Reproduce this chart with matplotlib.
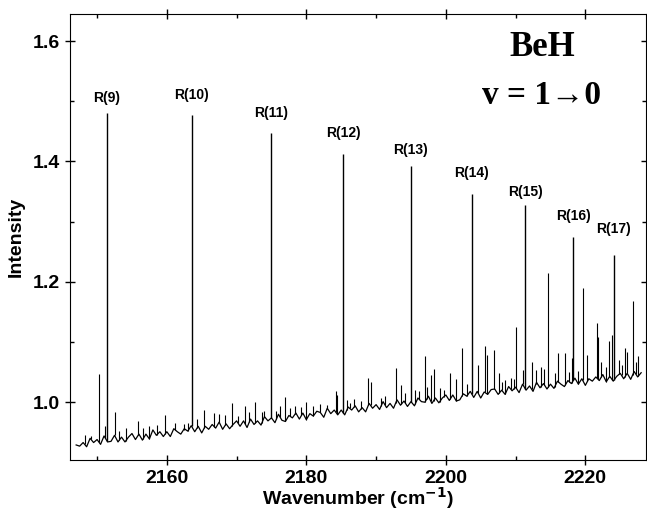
import numpy as np
import matplotlib
matplotlib.use("Agg")
import matplotlib.pyplot as plt
from matplotlib.ticker import MultipleLocator

# baseline trace, sampled every 0.5 cm-1 starting at 2147.0
baseline_start = 2147.0
baseline_step = 0.5
baseline = [
    0.929, 0.927, 0.933, 0.926, 0.940, 0.933, 0.938, 0.930, 0.944, 0.934,  # 2147
    0.935, 0.945, 0.934, 0.942, 0.934, 0.942, 0.948, 0.938, 0.947, 0.937,  # 2152
    0.947, 0.939, 0.954, 0.945, 0.951, 0.943, 0.951, 0.943, 0.956, 0.951,  # 2157
    0.947, 0.956, 0.952, 0.961, 0.951, 0.960, 0.949, 0.960, 0.955, 0.963,  # 2162
    0.957, 0.967, 0.955, 0.964, 0.956, 0.963, 0.969, 0.960, 0.969, 0.958,  # 2167
    0.972, 0.963, 0.969, 0.962, 0.976, 0.969, 0.974, 0.966, 0.980, 0.970,  # 2172
    0.968, 0.978, 0.974, 0.982, 0.972, 0.982, 0.971, 0.981, 0.977, 0.985,  # 2177
    0.983, 0.975, 0.990, 0.981, 0.987, 0.979, 0.987, 0.979, 0.992, 0.987,  # 2182
    0.994, 0.984, 0.991, 0.984, 0.998, 0.990, 0.996, 0.988, 1.001, 0.991,  # 2187
    0.998, 0.990, 1.004, 0.995, 1.002, 0.993, 1.001, 0.994, 1.007, 1.001,  # 2192
    1.000, 1.010, 0.998, 1.007, 0.999, 1.007, 1.012, 1.003, 1.012, 1.002,  # 2197
    1.004, 1.014, 1.010, 1.018, 1.008, 1.018, 1.007, 1.017, 1.013, 1.021,  # 2202
    1.022, 1.013, 1.020, 1.013, 1.026, 1.019, 1.025, 1.016, 1.030, 1.020,  # 2207
    1.027, 1.018, 1.033, 1.024, 1.031, 1.022, 1.030, 1.023, 1.035, 1.030,  # 2212
    1.026, 1.036, 1.031, 1.040, 1.030, 1.039, 1.028, 1.039, 1.035, 1.042,  # 2217
    1.036, 1.046, 1.034, 1.043, 1.035, 1.043, 1.048, 1.039, 1.048, 1.038,  # 2222
    1.051, 1.042, 1.049,                                                   # 2227
]

# weak lines (position, peak intensity)
weak_pos = [2150.3, 2151.2, 2152.5, 2154.1, 2155.9, 2157.5, 2158.6, 2159.8,
            2163.0, 2165.4, 2166.8, 2167.5, 2169.3, 2171.2, 2171.8, 2172.7,
            2174.0, 2176.2, 2176.9, 2178.4, 2180.0, 2181.0, 2182.0, 2183.0,
            2184.2, 2184.4, 2186.2, 2187.8, 2188.9, 2189.2, 2190.7, 2192.8,
            2193.6, 2195.6, 2197.0, 2197.3, 2197.85, 2198.25, 2199.7, 2200.6,
            2201.5, 2202.3, 2204.65, 2205.6, 2205.85, 2206.9, 2207.65, 2208.5,
            2209.3, 2210.1, 2211.0, 2212.3, 2212.9, 2213.6, 2214.1, 2214.7,
            2216.1, 2217.1, 2218.05, 2219.6, 2220.3, 2221.6, 2221.85, 2222.3,
            2223.4, 2223.85, 2224.85, 2225.7, 2226.0, 2226.8, 2227.6]
weak_int = [1.047, 0.960, 0.983, 0.957, 0.968, 0.960, 0.962, 0.979,
            0.965, 0.987, 0.982, 0.980, 0.999, 0.994, 0.984, 1.001,
            0.985, 0.993, 1.009, 0.994, 1.001, 0.993, 0.997, 0.996,
            1.018, 1.012, 0.998, 1.002, 1.040, 1.034, 1.007, 1.057,
            1.029, 1.020, 1.077, 1.026, 1.045, 1.056, 1.020, 1.049,
            1.038, 1.090, 1.062, 1.094, 1.079, 1.086, 1.048, 1.037,
            1.040, 1.125, 1.054, 1.067, 1.054, 1.059, 1.055, 1.214,
            1.082, 1.081, 1.073, 1.190, 1.078, 1.132, 1.109, 1.067,
            1.102, 1.112, 1.070, 1.090, 1.084, 1.169, 1.076]

# tiny spikes riding on the noise
small_pos = [2148.2, 2149.1, 2153.2, 2156.6, 2161.2, 2162.4, 2164.3, 2168.4,
             2170.2, 2173.6, 2175.7, 2177.6, 2179.3, 2185.8, 2186.9, 2191.3,
             2194.2, 2196.2, 2199.1, 2203.0, 2208.0, 2209.8, 2215.6, 2217.7,
             2219.0, 2223.0, 2225.2, 2227.2]
small_int = [0.945, 0.944, 0.952, 0.958, 0.966, 0.964, 0.972, 0.978,
             0.977, 0.984, 0.985, 0.990, 0.992, 1.004, 1.005, 1.010,
             1.016, 1.018, 1.024, 1.030, 1.034, 1.038, 1.048, 1.051,
             1.052, 1.058, 1.062, 1.066]

# assigned R-branch lines
r_labels = ["R(9)", "R(10)", "R(11)", "R(12)", "R(13)", "R(14)", "R(15)", "R(16)", "R(17)"]
r_pos = [2151.4, 2163.55, 2174.9, 2185.3, 2194.95, 2203.7, 2211.4, 2218.3, 2224.1]
r_int = [1.480, 1.477, 1.448, 1.413, 1.392, 1.346, 1.328, 1.275, 1.245]
r_label_y = [1.505, 1.510, 1.480, 1.447, 1.419, 1.381, 1.349, 1.309, 1.288]

wn = baseline_start + baseline_step * np.arange(len(baseline))

fig = plt.figure(figsize=(6.47, 5.11), dpi=100)
ax = fig.add_axes([0.108, 0.0998, 0.8905, 0.8728])

ax.plot(wn, baseline, color="black", lw=0.9)
ax.vlines(small_pos, np.interp(small_pos, wn, baseline), small_int, color="black", lw=0.8)
ax.vlines(weak_pos, np.interp(weak_pos, wn, baseline), weak_int, color="black", lw=0.8)
ax.vlines(r_pos, np.interp(r_pos, wn, baseline), r_int, color="black", lw=1.0)

for lab, x, y in zip(r_labels, r_pos, r_label_y):
    ax.text(x, y, lab, ha="center", va="center", fontsize=10,
            fontweight="bold", family="Liberation Sans")

ax.text(2213.9, 1.59, "BeH", ha="center", va="center", fontsize=25,
        fontweight="bold", family=["Liberation Serif", "DejaVu Serif"])
ax.text(2213.7, 1.51, "v = 1\u21920", ha="center", va="center", fontsize=24,
        fontweight="bold", family=["Liberation Serif", "DejaVu Serif"])

ax.set_xlim(2146.1, 2228.7)
ax.set_ylim(0.904, 1.645)
ax.xaxis.set_major_locator(MultipleLocator(20))
ax.xaxis.set_minor_locator(MultipleLocator(10))
ax.yaxis.set_major_locator(MultipleLocator(0.2))
ax.yaxis.set_minor_locator(MultipleLocator(0.1))
ax.tick_params(which="major", direction="inout", length=7, width=1,
               top=True, right=True, labelsize=14)
ax.tick_params(which="minor", direction="in", length=3, width=1, top=True, right=True)
for lab in ax.get_xticklabels() + ax.get_yticklabels():
    lab.set_fontweight("bold")
    lab.set_family("Liberation Sans")

ax.set_xlabel("Wavenumber (cm$^{\\mathbf{-1}}$)", fontsize=14, fontweight="bold",
              family="Liberation Sans", labelpad=-1)
ax.set_ylabel("Intensity", fontsize=14, fontweight="bold", family="Liberation Sans",
              labelpad=6)

fig.savefig("out.png", dpi=100)
